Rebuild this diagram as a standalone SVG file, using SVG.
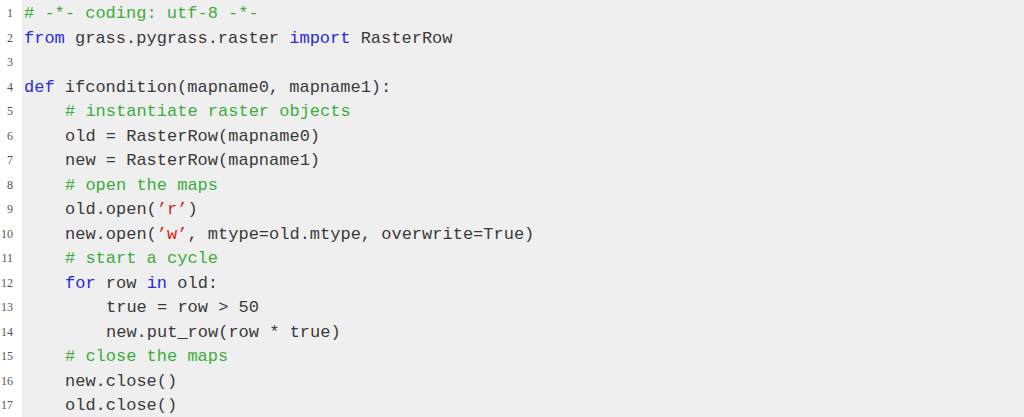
<svg xmlns="http://www.w3.org/2000/svg" width="1024" height="417" viewBox="0 0 1024 417">
<style>
.c{font-family:"Liberation Mono",monospace;font-size:17px;fill:#3a3a3a;white-space:pre}
.n{font-family:"Liberation Serif",serif;font-size:12px;fill:#555;text-anchor:end}
.k{fill:#2a2ae0}.g{fill:#3cad3c}.s{fill:#e02020}
</style>
<rect width="1024" height="417" fill="#fff"/>
<rect x="22" y="0" width="1002" height="417" fill="#efefef"/>
<g class="n">
<text x="13" y="17">1</text><text x="13" y="41.5">2</text><text x="13" y="66">3</text><text x="13" y="90.5">4</text><text x="13" y="115">5</text><text x="13" y="139.5">6</text><text x="13" y="164">7</text><text x="13" y="188.5">8</text><text x="13" y="213">9</text><text x="13" y="237.5">10</text><text x="13" y="262">11</text><text x="13" y="286.5">12</text><text x="13" y="311">13</text><text x="13" y="335.5">14</text><text x="13" y="360">15</text><text x="13" y="384.5">16</text><text x="13" y="409">17</text>
</g>
<g class="c">
<text x="24" y="18"><tspan class="g"># -*- coding: utf-8 -*-</tspan></text>
<text x="24" y="42.5"><tspan class="k">from</tspan> grass.pygrass.raster <tspan class="k">import</tspan> RasterRow</text>
<text x="24" y="91.5"><tspan class="k">def</tspan> ifcondition(mapname0, mapname1):</text>
<text x="65" y="116"><tspan class="g"># instantiate raster objects</tspan></text>
<text x="65" y="140.5">old = RasterRow(mapname0)</text>
<text x="65" y="165">new = RasterRow(mapname1)</text>
<text x="65" y="189.5"><tspan class="g"># open the maps</tspan></text>
<text x="65" y="214">old.open(<tspan class="s">’r’</tspan>)</text>
<text x="65" y="238.5">new.open(<tspan class="s">’w’</tspan>, mtype=old.mtype, overwrite=True)</text>
<text x="65" y="263"><tspan class="g"># start a cycle</tspan></text>
<text x="65" y="287.5"><tspan class="k">for</tspan> row <tspan class="k">in</tspan> old:</text>
<text x="106" y="312">true = row &gt; 50</text>
<text x="106" y="336.5">new.put_row(row * true)</text>
<text x="65" y="361"><tspan class="g"># close the maps</tspan></text>
<text x="65" y="385.5">new.close()</text>
<text x="65" y="410">old.close()</text>
</g>
</svg>
